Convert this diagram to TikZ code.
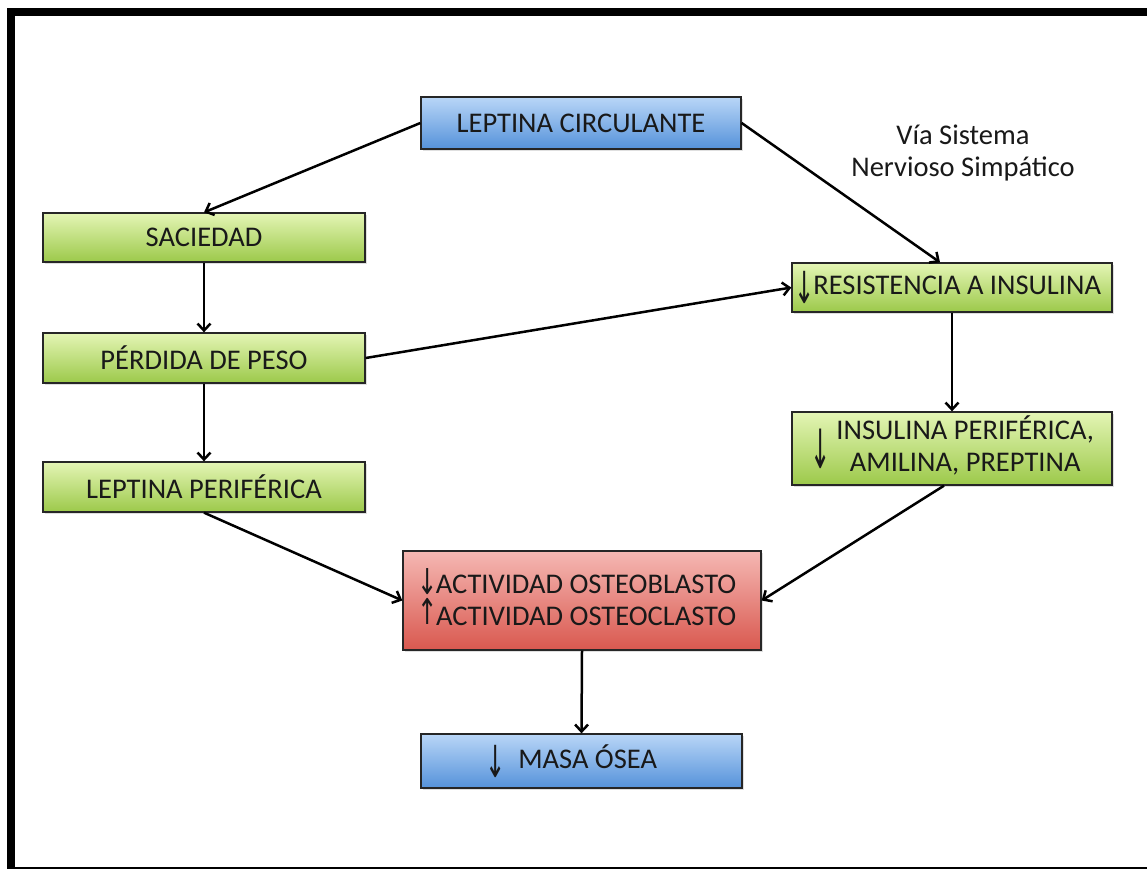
\documentclass[tikz,border=0pt]{standalone}
\usepackage{fontspec}
\setmainfont{Carlito}
\newfontfamily\arrfont{DejaVu Sans}
\usepackage{graphicx}
\usetikzlibrary{arrows.meta,shadows}
\begin{document}
\begin{tikzpicture}[x=1pt,y=-1pt,
  box/.style={draw=black!85, line width=1.3pt, inner sep=0pt, align=center,
    font=\fontsize{28.5}{32}\selectfont, text=black!90,
    drop shadow={opacity=0.25, shadow xshift=2pt, shadow yshift=-2pt}},
  bluebox/.style={box, top color=blue1, bottom color=blue2},
  greenbox/.style={box, top color=green1, bottom color=green2},
  redbox/.style={box, top color=red1, bottom color=red2},
  conn/.style={line width=2.5pt, -{Straight Barb[length=7pt,width=13pt,line width=2.5pt]}},
  plain/.style={align=center, font=\fontsize{28.5}{32}\selectfont, text=black!90}
]
\definecolor{blue1}{HTML}{B9D6F7}
\definecolor{blue2}{HTML}{5592DA}
\definecolor{green1}{HTML}{E4F5B5}
\definecolor{green2}{HTML}{9CC94A}
\definecolor{red1}{HTML}{F5B8B3}
\definecolor{red2}{HTML}{D9584F}
\newcommand{\dn}{\raisebox{-0.3em}{\scalebox{0.85}[1.55]{\arrfont ↓}}}
\newcommand{\dnsm}{\smash{\raisebox{-0.04em}{\scalebox{0.85}[1.25]{\arrfont ↓}}}}
\newcommand{\upsm}{\smash{\raisebox{0.03em}{\scalebox{0.85}[1.25]{\arrfont ↑}}}}
\newcommand{\dnbig}{\raisebox{-0.5em}{\scalebox{0.85}[1.9]{\arrfont ↓}}}

\path[use as bounding box] (0,0) rectangle (1147,868);
\begin{scope}
\clip (0,0) rectangle (1147,868);
\fill[white] (0,0) rectangle (1147,868);
\draw[line width=8pt] (11,12) rectangle (1200,871);
\end{scope}

\node[bluebox, minimum width=320pt, minimum height=52pt] (lc) at (581,123) {LEPTINA CIRCULANTE};
\node[greenbox, minimum width=322pt, minimum height=49pt] (sac) at (204,237.5) {SACIEDAD};
\node[greenbox, minimum width=322pt, minimum height=50pt] (pp) at (204,358) {PÉRDIDA DE PESO};
\node[greenbox, minimum width=322pt, minimum height=50pt] (lp) at (204,487) {LEPTINA PERIFÉRICA};
\node[greenbox, minimum width=320pt, minimum height=49pt] (ri) at (952,287.5) {\hspace*{-8pt}\dn\hspace{-2pt}RESISTENCIA A INSULINA};
\node[greenbox, minimum width=320pt, minimum height=73pt] (ip) at (952,448.5) {\dnbig\hspace{6pt}\begin{tabular}[c]{@{}c@{}}INSULINA PERIFÉRICA,\\AMILINA, PREPTINA\end{tabular}};
\node[redbox, minimum width=358pt, minimum height=99pt] (ao) at (582,600.5) {\hspace*{-10pt}\dnsm\hspace{-2pt}ACTIVIDAD OSTEOBLASTO\\\hspace*{-10pt}\upsm\hspace{-2pt}ACTIVIDAD OSTEOCLASTO};
\node[bluebox, minimum width=321pt, minimum height=54pt] (mo) at (581.5,761) {\dn\hspace{12pt}MASA ÓSEA\hspace{20pt}};
\node[plain] (via) at (963,153) {Vía Sistema\\Nervioso Simpático};

\draw[conn] (lc.west) -- (sac.north);
\draw[conn] (lc.east) -- ([xshift=-12pt]ri.north);
\draw[conn] (sac.south) -- (pp.north);
\draw[conn] (pp.south) -- (lp.north);
\draw[conn] (pp.east) -- (ri.west);
\draw[conn] (ri.south) -- (ip.north);
\draw[conn] (lp.south) -- (ao.west);
\draw[conn] ([xshift=-8pt]ip.south) -- (ao.east);
\draw[conn] (ao.south) -- (mo.north);
\end{tikzpicture}
\end{document}
